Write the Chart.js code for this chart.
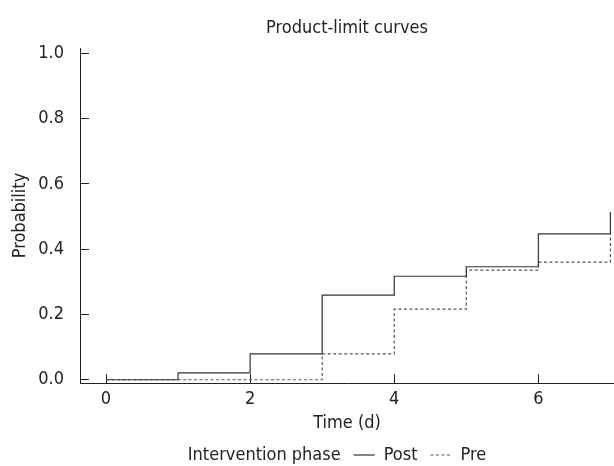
<!DOCTYPE html>
<html>
<head>
<meta charset="utf-8">
<script src="https://cdn.jsdelivr.net/npm/chart.js@4.4.1/dist/chart.umd.min.js"></script>
<style>
  html, body { margin: 0; padding: 0; background: #fff; }
  #wrap { width: 614px; height: 466px; }
</style>
</head>
<body>
<div id="wrap"><canvas id="km" width="614" height="466"></canvas></div>
<script>
const times = [0, 1, 2, 3, 4, 5, 6, 7];
const postValues = [0, 0.021, 0.079, 0.259, 0.317, 0.346, 0.447, 0.514];
const preValues = [0, 0, 0, 0.079, 0.216, 0.336, 0.360, 0.445];
const xTicks = [0, 2, 4, 6];
const yTicks = [0, 0.2, 0.4, 0.6, 0.8, 1.0];
const legendTitle = "Intervention phase";

const FONT = '"DejaVu Sans Condensed", "DejaVu Sans", sans-serif';
const INK = "#222";

Chart.defaults.font.family = FONT;
Chart.defaults.font.size = 18;
Chart.defaults.color = INK;

function toPoints(values) {
  return times.map((t, i) => ({ x: t, y: values[i] }));
}

// title and legend centred over the plot instead of the whole canvas
const shiftBoxes = {
  id: "shiftBoxes",
  afterLayout(chart) {
    const area = chart.chartArea;
    chart.titleBlock.left = area.left;
    chart.titleBlock.right = area.right;
    chart.legend.left = 30;
  }
};

const axisGrid = { drawOnChartArea: false, tickLength: -9, color: INK, lineWidth: 1 };

new Chart(document.getElementById("km"), {
  type: "line",
  data: {
    datasets: [
      {
        label: "Post",
        data: toPoints(postValues),
        stepped: true,
        borderColor: "#333",
        borderWidth: 1.2,
        pointRadius: 0,
        fill: false
      },
      {
        label: "Pre",
        data: toPoints(preValues),
        stepped: true,
        borderColor: "#555",
        borderWidth: 1.2,
        borderDash: [3, 2.5],
        pointRadius: 0,
        fill: false
      }
    ]
  },
  options: {
    responsive: false,
    animation: false,
    devicePixelRatio: 1,
    layout: { padding: { top: 0, left: 0, right: 0, bottom: -8 } },
    plugins: {
      title: {
        display: true,
        text: "Product-limit curves",
        color: INK,
        font: { size: 18, weight: "normal" },
        padding: { top: 17.5, bottom: 8.9 }
      },
      legend: {
        position: "bottom",
        labels: {
          usePointStyle: true,
          pointStyle: "line",
          pointStyleWidth: 21,
          padding: 13,
          color: INK,
          font: { size: 18 },
          generateLabels(chart) {
            const items = chart.data.datasets.map((ds, i) => ({
              text: ds.label,
              fillStyle: ds.borderColor,
              strokeStyle: ds.borderColor,
              lineWidth: ds.borderWidth,
              lineDash: ds.borderDash || [],
              pointStyle: "line",
              hidden: false,
              datasetIndex: i,
              fontColor: INK
            }));
            items.unshift({
              text: legendTitle,
              fillStyle: "rgba(0,0,0,0)",
              strokeStyle: "rgba(0,0,0,0)",
              lineWidth: 0,
              pointStyle: "line",
              hidden: false,
              datasetIndex: -1,
              fontColor: INK
            });
            return items;
          }
        }
      },
      tooltip: { enabled: false }
    },
    scales: {
      x: {
        type: "linear",
        min: -0.361,
        max: 7.05,
        afterBuildTicks: s => { s.ticks = xTicks.map(v => ({ value: v })); },
        afterFit: s => { s.height = 50; },
        ticks: { padding: 15, color: INK, callback: v => String(v) },
        grid: axisGrid,
        border: { color: INK, width: 1 },
        title: { display: true, text: "Time (d)", color: INK, font: { size: 18 }, padding: { top: 0, bottom: -1 } }
      },
      y: {
        type: "linear",
        min: -0.010,
        max: 1.016,
        afterBuildTicks: s => { s.ticks = yTicks.map(v => ({ value: v })); },
        afterFit: s => { s.width = 80; },
        ticks: { padding: 25, color: INK, callback: v => v.toFixed(1) },
        grid: axisGrid,
        border: { color: INK, width: 1 },
        title: { display: true, text: "Probability", color: INK, font: { size: 18 }, padding: { top: 9.7, bottom: 0 } }
      }
    }
  },
  plugins: [shiftBoxes]
});
</script>
</body>
</html>
